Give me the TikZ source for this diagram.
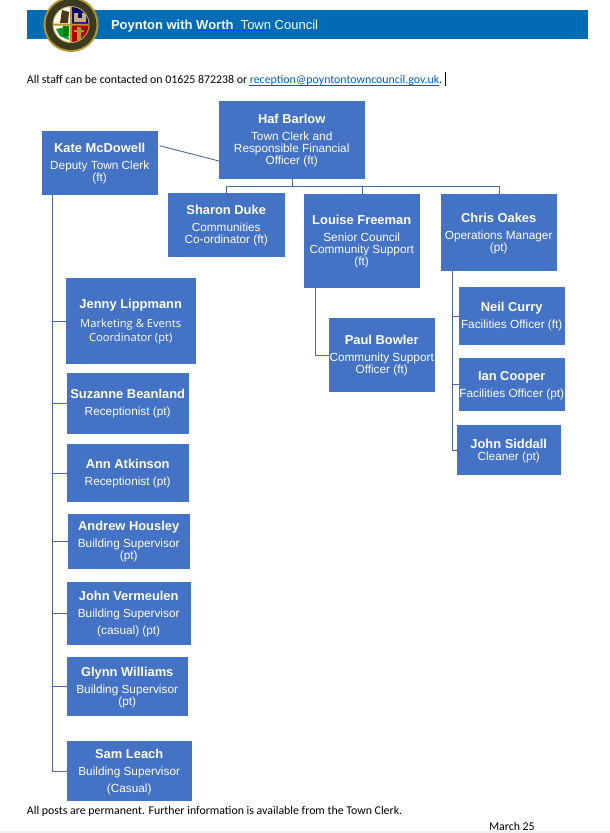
\documentclass[tikz,border=0pt]{standalone}
\usepackage{fontspec}
\setmainfont{Liberation Sans}
\newfontfamily\bodyfont{Carlito}
\newfontfamily\altfont{Open Sans}
\usetikzlibrary{calc}
\definecolor{boxblue}{HTML}{4472C4}
\definecolor{bannerblue}{HTML}{006CB5}
\definecolor{wirecol}{HTML}{4A689E}
\definecolor{linkblue}{HTML}{0B5CAD}
\definecolor{crestgold}{HTML}{B8962E}
\definecolor{crestdark}{HTML}{3A3A20}
\newcommand{\nm}[1]{{\bfseries\fontsize{12.9}{12}\selectfont #1}}
\newcommand{\orgbox}[7][]{% id l t r b firstbaseline text
  \pgfmathsetmacro{\cxv}{(#3+#5)/2}%
  \pgfmathsetmacro{\cyv}{(#4+#6)/2}%
  \pgfmathsetmacro{\wv}{#5-#3}%
  \pgfmathsetmacro{\hv}{#6-#4}%
  \pgfmathsetmacro{\rv}{\cyv-#7}%
  \node[orgnode,minimum width=\wv pt,minimum height=\hv pt] (#2) at (\cxv,\cyv)
    {\raisebox{\rv pt}[0pt][0pt]{\hspace*{-0.6pt}\parbox[t]{\wv pt}{\centering\lineskiplimit=-100pt\fontsize{11.8}{12}\selectfont\orgtxt}}};%
}
\tikzset{
  orgnode/.style={fill=boxblue,draw=none,inner sep=0pt,outer sep=0pt,text=white,anchor=center},
  wire/.style={draw=wirecol,line width=0.9pt},
  plain/.style={inner sep=0pt,outer sep=0pt,anchor=base west,text=black}
}
\begin{document}
\begin{tikzpicture}[x=1pt,y=-1pt]
\useasboundingbox (0,0) rectangle (610,833);
\fill[white] (0,0) rectangle (610,833);
\fill[black!6] (0,831) rectangle (610,833);
% banner
\node[fill=bannerblue,minimum width=561pt,minimum height=29pt,inner sep=0pt,outer sep=0pt] (banner) at (307.5,24.5) {};
\node[plain,text=white] (title) at (111,29) {\fontsize{13}{13}\selectfont\bfseries Poynton with Worth\ \ \mdseries Town Council};
\draw[blue!70!cyan,line width=0.6pt] (195,30.5) -- (270,30.5);
% crest
\fill[crestgold] (71,24.5) circle (27.5);
\fill[crestdark] (71,24.5) circle (25.5);
\fill[crestgold!80!white] (71,24.5) circle (18.5);
\begin{scope}
\clip (71,24.5) circle (17.5);
\fill[white!92!yellow] (52,6) rectangle (71,24.5);
\fill[blue!45!black] (71,6) rectangle (91,24.5);
\fill[white!92!yellow] (52,24.5) rectangle (71,44);
\fill[red!70!black] (71,24.5) rectangle (91,44);
\fill[black!60!brown] (62,10) -- (69,12) -- (68,23) -- (60,23) -- cycle;
\fill[black!10!brown!60!white] (74,13) rectangle (78,21) (82,13) rectangle (86,21) (74,18) rectangle (86,22);
\fill[green!50!black!80!cyan] (56,29) -- (66,27) -- (69,40) -- (60,36) -- cycle;
\fill[green!50!black] (63,26) rectangle (69,36);
\fill[crestgold] (77,27) rectangle (81,41) (74,30) rectangle (84,32);
\fill[crestgold] (70,5.5) rectangle (72,43.5) (53,23.5) rectangle (89,25.5);
\end{scope}
% contact line
\node[plain] (contact) at (27,83.5) {\bodyfont\fontsize{11.85}{12}\selectfont All staff can be contacted on 01625 872238 or \textcolor{linkblue}{reception@poyntontowncouncil.gov.uk}.};
\fill[black] (445,72) rectangle (446,86);
\draw[linkblue,line width=0.6pt] (249,85.5) -- (439,85.5);
% boxes
\def\orgtxt{\nm{Haf Barlow}\\[5pt]Town Clerk and\\Responsible Financial\\Officer (ft)}
\orgbox{haf}{219}{101}{365}{179}{123}
\def\orgtxt{\nm{Kate McDowell}\\[5pt]Deputy Town Clerk\\(ft)}
\orgbox{kate}{42}{131}{158}{195}{152}
\def\orgtxt{\nm{Sharon Duke}\\[5pt]Communities\\Co-ordinator (ft)}
\orgbox{sharon}{168}{193}{285}{257}{214}
\def\orgtxt{\nm{Louise Freeman}\\[5pt]Senior Council\\Community Support\\(ft)}
\orgbox{louise}{304}{194}{420}{288}{224}
\def\orgtxt{\nm{Chris Oakes}\\[5pt]Operations Manager\\(pt)}
\orgbox{chris}{441}{194}{557}{271}{222}
\def\orgtxt{\nm{Paul Bowler}\\[5pt]Community Support\\Officer (ft)}
\orgbox{paul}{329}{318}{435}{392}{344}
\def\orgtxt{\nm{Neil Curry}\\[5pt]Facilities Officer (ft)}
\orgbox{neil}{459}{287}{565}{345}{311}
\def\orgtxt{\nm{Ian Cooper}\\[5pt]Facilities Officer (pt)}
\orgbox{ian}{459}{358}{565}{411}{380}
\def\orgtxt{\nm{John Siddall}\\Cleaner (pt)}
\orgbox{siddall}{457}{425}{561}{475}{448}
\def\orgtxt{\nm{Jenny Lippmann}\\[5pt]{\altfont\fontsize{11.2}{14}\selectfont Marketing \& Events\\[2pt]Coordinator (pt)}}
\orgbox{jenny}{66}{278}{196}{364}{308}
\def\orgtxt{\nm{Suzanne Beanland}\\[5pt]Receptionist (pt)}
\orgbox{suzanne}{67}{373}{189}{434}{398}
\def\orgtxt{\nm{Ann Atkinson}\\[5pt]Receptionist (pt)}
\orgbox{ann}{67}{444}{189}{502}{468}
\def\orgtxt{\nm{Andrew Housley}\\[5pt]Building Supervisor\\(pt)}
\orgbox{andrew}{68}{514}{190}{569}{530}
\def\orgtxt{\nm{John Vermeulen}\\[5pt]Building Supervisor\\[5pt](casual) (pt)}
\orgbox{vermeulen}{67}{582}{191}{645}{600}
\def\orgtxt{\nm{Glynn Williams}\\[5pt]Building Supervisor\\(pt)}
\orgbox{glynn}{67}{657}{188}{716}{676}
\def\orgtxt{\nm{Sam Leach}\\[5pt]Building Supervisor\\[5pt](Casual)}
\orgbox{sam}{67}{741}{192}{801}{758}
% connectors
\draw[wire] ([xshift=1.5pt,yshift=-14.7pt]kate.north east) -- ([yshift=-21pt]haf.west);
\coordinate (bus) at ([yshift=-7pt]haf.south);
\draw[wire] (haf.south) -- (bus) -| (sharon.north);
\draw[wire] (bus) -| (louise.north);
\draw[wire] (bus) -| (chris.north);
\coordinate (kspine) at ([xshift=10.7pt]kate.south west);
\draw[wire] (kspine) |- (sam.west);
\foreach \t in {jenny,suzanne,ann,andrew,vermeulen,glynn}{\draw[wire] (\t.west -| kspine) -- (\t.west);}
\coordinate (lspine) at ([xshift=11pt]louise.south west);
\draw[wire] (lspine) |- (paul.west);
\coordinate (cspine) at ([xshift=11pt]chris.south west);
\draw[wire] (cspine) |- (siddall.west);
\foreach \t in {neil,ian}{\draw[wire] (\t.west -| cspine) -- (\t.west);}
% footer
\node[plain] (posts) at (27,814) {\bodyfont\fontsize{11.85}{12}\selectfont All posts are permanent. Further information is available from the Town Clerk.};
\node[plain] (date) at (489,830) {\bodyfont\fontsize{11.85}{12}\selectfont March 25};
\end{tikzpicture}
\end{document}
